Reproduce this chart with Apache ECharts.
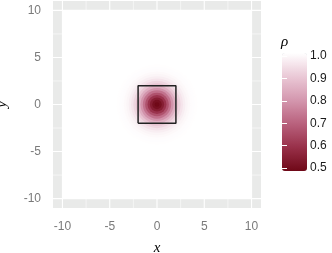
<!DOCTYPE html>
<html><head><meta charset="utf-8">
<script src="https://cdn.jsdelivr.net/npm/echarts@6/dist/echarts.min.js"></script>
<style>html,body{margin:0;padding:0;background:#fff}#c{width:332px;height:253px}</style>
</head><body><div id="c"></div>
<script>
// ---- data ----
const axisTicks = [-10, -5, 0, 5, 10];
const gridBreaks = [-10, -7.5, -5, -2.5, 0, 2.5, 5, 7.5, 10];
const fieldHalfWidth = [10];
const fieldRho = [1.0];
const ringRadius = [4.25, 4.0, 3.75, 3.5, 3.25, 3.0, 2.75, 2.5, 2.25, 2.0, 1.75, 1.5, 1.25, 1.0, 0.75, 0.5, 0.25];
const ringRho    = [0.998, 0.997, 0.994, 0.989, 0.981, 0.969, 0.951, 0.925, 0.891, 0.847, 0.793, 0.732, 0.669, 0.607, 0.555, 0.519, 0.502];
const boxX = [-2, 2, 2, -2, -2];
const boxY = [-2, -2, 2, 2, -2];
const legendTicks = [0.5, 0.6, 0.7, 0.8, 0.9, 1.0];
const rhoMin = 0.5, rhoMax = 1.0;
const rhoColors = ['#6f0817', '#983049', '#b9617d', '#d497ae', '#eac8d6', '#ffffff'];

const chart = echarts.init(document.getElementById('c'), null, {renderer: 'canvas'});

const gridData = [];
gridBreaks.forEach(b => { gridData.push([b, 0]); gridData.push([b, 1]); });

const option = {
  animation: false,
  grid: [
    {left: 53, top: 1, width: 208, height: 207, show: true, backgroundColor: '#e9eae9', borderWidth: 0, outerBoundsMode: 'none', containLabel: false},
    {left: 282, top: 56, width: 25, height: 112, show: false, outerBoundsMode: 'none', containLabel: false}
  ],
  xAxis: [
    {type: 'value', gridIndex: 0, min: -11, max: 11,
     axisLine: {show: false}, splitLine: {show: false},
     axisTick: {show: true, length: 4, lineStyle: {color: '#8a8a8a'}, customValues: axisTicks},
     axisLabel: {customValues: axisTicks, color: '#7a7a7a', fontSize: 12, margin: 13, fontFamily: 'Liberation Sans'},
     name: 'x', nameLocation: 'middle', nameGap: 33,
     nameTextStyle: {fontFamily: 'Liberation Serif', fontStyle: 'italic', fontSize: 15, color: '#000'}},
    {type: 'value', gridIndex: 1, min: 0, max: 1, show: false}
  ],
  yAxis: [
    {type: 'value', gridIndex: 0, min: -11, max: 11,
     axisLine: {show: false}, splitLine: {show: false},
     axisTick: {show: true, length: 4, lineStyle: {color: '#8a8a8a'}, customValues: axisTicks},
     axisLabel: {customValues: axisTicks, color: '#7a7a7a', fontSize: 12, margin: 12, fontFamily: 'Liberation Sans'},
     name: 'y', nameLocation: 'middle', nameGap: 43, nameRotate: 90,
     nameTextStyle: {fontFamily: 'Liberation Serif', fontStyle: 'italic', fontSize: 15, color: '#000'}},
    {type: 'value', gridIndex: 1, min: rhoMin, max: rhoMax, position: 'right', z: 10,
     axisLine: {show: false}, splitLine: {show: false},
     axisTick: {show: true, inside: true, length: 5, lineStyle: {color: '#ffffff', width: 1}, customValues: legendTicks},
     axisLabel: {customValues: legendTicks, formatter: v => v.toFixed(1), color: '#1a1a1a', fontSize: 12, margin: 3, fontFamily: 'Liberation Sans'}},
    {type: 'value', gridIndex: 1, min: rhoMin, max: rhoMax, position: 'left', z: 10,
     axisLine: {show: false}, splitLine: {show: false},
     axisTick: {show: true, inside: true, length: 5, lineStyle: {color: '#ffffff', width: 1}, customValues: legendTicks},
     axisLabel: {show: false}}
  ],
  visualMap: [{
    type: 'continuous', seriesIndex: [1, 2], dimension: 1,
    min: rhoMin, max: rhoMax, calculable: false, show: true,
    orient: 'vertical', left: 282, top: 53, itemWidth: 25, itemHeight: 118,
    padding: 0, text: null, inRange: {color: rhoColors}
  }],
  graphic: [{
    type: 'text', left: 281, top: 35, z: 10,
    style: {text: 'ρ', font: 'italic 15px "Liberation Serif"', fill: '#000'}
  }],
  series: [
    {type: 'custom', xAxisIndex: 0, yAxisIndex: 0, z: 1, silent: true,
     data: gridData,
     renderItem: (params, api) => {
       const b = api.value(0), kind = api.value(1);
       const cs = params.coordSys;
       const major = Math.abs(b) % 5 === 0;
       let shape;
       if (kind === 0) { const px = api.coord([b, 0])[0]; shape = {x1: px, y1: cs.y, x2: px, y2: cs.y + cs.height}; }
       else { const py = api.coord([0, b])[1]; shape = {x1: cs.x, y1: py, x2: cs.x + cs.width, y2: py}; }
       return {type: 'line', shape, style: {stroke: '#ffffff', lineWidth: major ? 1.1 : 0.55}};
     }},
    {type: 'custom', xAxisIndex: 0, yAxisIndex: 0, z: 2, silent: true,
     data: fieldHalfWidth.map((h, i) => [h, fieldRho[i]]),
     renderItem: (params, api) => {
       const h = api.value(0);
       const p1 = api.coord([-h, h]), p2 = api.coord([h, -h]);
       return {type: 'rect', shape: {x: p1[0], y: p1[1], width: p2[0] - p1[0], height: p2[1] - p1[1]},
               style: {fill: api.visual('color')}};
     }},
    {type: 'custom', xAxisIndex: 0, yAxisIndex: 0, z: 3, silent: true,
     data: ringRadius.map((r, i) => [r, ringRho[i]]),
     renderItem: (params, api) => {
       const c = api.coord([0, 0]);
       const r = api.size([api.value(0), 0])[0];
       return {type: 'circle', shape: {cx: c[0], cy: c[1], r: r}, style: {fill: api.visual('color')}};
     }},
    {type: 'line', xAxisIndex: 0, yAxisIndex: 0, z: 5, silent: true,
     data: boxX.map((x, i) => [x, boxY[i]]),
     symbol: 'none', lineStyle: {color: '#222', width: 1.5}}
  ]
};
chart.setOption(option);
</script>
</body></html>
